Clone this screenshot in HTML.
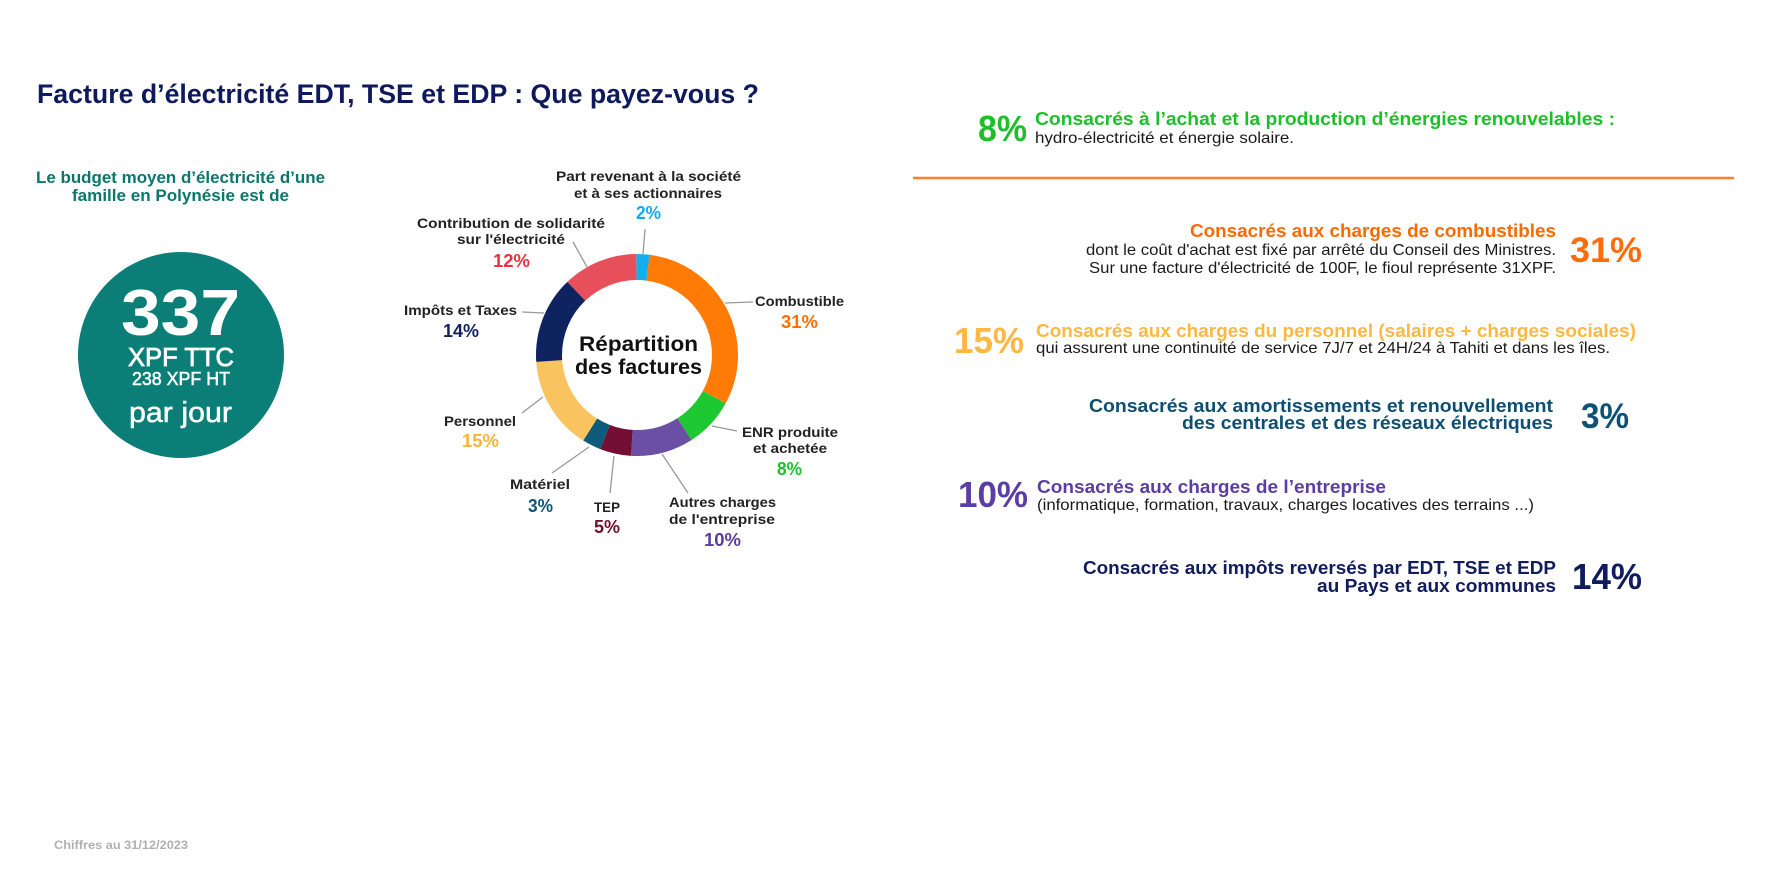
<!DOCTYPE html>
<html>
<head>
<meta charset="utf-8">
<style>
  html,body{margin:0;padding:0;background:#fff;}
  svg{display:block;}
  text{font-family:"Liberation Sans",Arial,sans-serif;}
  .b{font-weight:bold;}
  .lbl{font-size:14px;font-weight:bold;fill:#222;}
  .pct{font-size:18px;font-weight:bold;}
  .body{font-size:16px;fill:#1a1a1a;}
  .hd{font-size:18.5px;font-weight:bold;}
  .big{font-size:36px;font-weight:bold;}
</style>
</head>
<body>
<svg width="1773" height="895" viewBox="0 0 1773 895" xmlns="http://www.w3.org/2000/svg">
  <rect width="1773" height="895" fill="#fff"/>

  <!-- Title -->
  <text x="37" y="103" font-size="26.5" class="b" fill="#0e1a5c" textLength="722" lengthAdjust="spacingAndGlyphs">Facture d’électricité EDT, TSE et EDP : Que payez-vous ?</text>

  <!-- Left panel -->
  <text x="36" y="183" font-size="16.5" class="b" fill="#0b766b" textLength="289" lengthAdjust="spacingAndGlyphs">Le budget moyen d’électricité d’une</text>
  <text x="72" y="201" font-size="16.5" class="b" fill="#0b766b" textLength="217" lengthAdjust="spacingAndGlyphs">famille en Polynésie est de</text>

  <circle cx="181" cy="355" r="103" fill="#0b7f77"/>
  <text x="121" y="335" font-size="65" class="b" fill="#fff" textLength="119" lengthAdjust="spacingAndGlyphs">337</text>
  <text x="128" y="366" font-size="26" fill="#fff" stroke="#fff" stroke-width="0.8" textLength="106" lengthAdjust="spacingAndGlyphs">XPF TTC</text>
  <text x="132" y="385" font-size="18" fill="#fff" stroke="#fff" stroke-width="0.5" textLength="98" lengthAdjust="spacingAndGlyphs">238 XPF HT</text>
  <text x="129" y="422" font-size="29" fill="#fff" stroke="#fff" stroke-width="0.5" textLength="103" lengthAdjust="spacingAndGlyphs">par jour</text>

  <!-- Donut -->
  <g transform="rotate(-90 637 355)" fill="none" stroke-width="26">
    <circle cx="637" cy="355" r="88" pathLength="100" stroke="#14aef0" stroke-dasharray="2 98" stroke-dashoffset="0"/>
    <circle cx="637" cy="355" r="88" pathLength="100" stroke="#ff7b06" stroke-dasharray="31 69" stroke-dashoffset="-2"/>
    <circle cx="637" cy="355" r="88" pathLength="100" stroke="#1ec832" stroke-dasharray="8 92" stroke-dashoffset="-33"/>
    <circle cx="637" cy="355" r="88" pathLength="100" stroke="#6a4fa5" stroke-dasharray="10 90" stroke-dashoffset="-41"/>
    <circle cx="637" cy="355" r="88" pathLength="100" stroke="#720f33" stroke-dasharray="5 95" stroke-dashoffset="-51"/>
    <circle cx="637" cy="355" r="88" pathLength="100" stroke="#0e5a7a" stroke-dasharray="3 97" stroke-dashoffset="-56"/>
    <circle cx="637" cy="355" r="88" pathLength="100" stroke="#f9c45f" stroke-dasharray="15 85" stroke-dashoffset="-59"/>
    <circle cx="637" cy="355" r="88" pathLength="100" stroke="#0f2361" stroke-dasharray="14 86" stroke-dashoffset="-74"/>
    <circle cx="637" cy="355" r="88" pathLength="100" stroke="#e74f5a" stroke-dasharray="12 88" stroke-dashoffset="-88"/>
  </g>

  <text x="579" y="351" font-size="21" class="b" fill="#111" textLength="119" lengthAdjust="spacingAndGlyphs">Répartition</text>
  <text x="575" y="374" font-size="21" class="b" fill="#111" textLength="127" lengthAdjust="spacingAndGlyphs">des factures</text>

  <!-- Leader lines -->
  <g stroke="#9a9a9a" stroke-width="1.3" fill="none">
    <line x1="645" y1="229" x2="643" y2="254"/>
    <line x1="573" y1="242" x2="587" y2="267"/>
    <line x1="725" y1="303" x2="753" y2="302"/>
    <line x1="522" y1="312" x2="544" y2="313"/>
    <line x1="522" y1="413" x2="543" y2="397"/>
    <line x1="552" y1="473" x2="589" y2="447"/>
    <line x1="610" y1="493" x2="614" y2="456"/>
    <line x1="688" y1="493" x2="662" y2="454"/>
    <line x1="712" y1="426" x2="737" y2="431"/>
  </g>

  <!-- Donut labels -->
  <text x="556" y="181" class="lbl" textLength="185" lengthAdjust="spacingAndGlyphs">Part revenant à la société</text>
  <text x="574" y="198" class="lbl" textLength="148" lengthAdjust="spacingAndGlyphs">et à ses actionnaires</text>
  <text x="636" y="219" class="pct" fill="#15a9ec" textLength="25" lengthAdjust="spacingAndGlyphs">2%</text>

  <text x="417" y="228" class="lbl" textLength="188" lengthAdjust="spacingAndGlyphs">Contribution de solidarité</text>
  <text x="457" y="244" class="lbl" textLength="108" lengthAdjust="spacingAndGlyphs">sur l'électricité</text>
  <text x="493" y="267" class="pct" fill="#e8323f" textLength="37" lengthAdjust="spacingAndGlyphs">12%</text>

  <text x="755" y="306" class="lbl" textLength="89" lengthAdjust="spacingAndGlyphs">Combustible</text>
  <text x="781" y="328" class="pct" fill="#ff6f00" textLength="37" lengthAdjust="spacingAndGlyphs">31%</text>

  <text x="404" y="315" class="lbl" textLength="113" lengthAdjust="spacingAndGlyphs">Impôts et Taxes</text>
  <text x="443" y="337" class="pct" fill="#13215e" textLength="36" lengthAdjust="spacingAndGlyphs">14%</text>

  <text x="444" y="426" class="lbl" textLength="72" lengthAdjust="spacingAndGlyphs">Personnel</text>
  <text x="462" y="447" class="pct" fill="#fbb436" textLength="37" lengthAdjust="spacingAndGlyphs">15%</text>

  <text x="510" y="489" class="lbl" textLength="60" lengthAdjust="spacingAndGlyphs">Matériel</text>
  <text x="528" y="512" class="pct" fill="#0e5677" textLength="25" lengthAdjust="spacingAndGlyphs">3%</text>

  <text x="594" y="512" class="lbl" textLength="26" lengthAdjust="spacingAndGlyphs">TEP</text>
  <text x="594" y="533" class="pct" fill="#6e1030" textLength="26" lengthAdjust="spacingAndGlyphs">5%</text>

  <text x="669" y="507" class="lbl" textLength="107" lengthAdjust="spacingAndGlyphs">Autres charges</text>
  <text x="669" y="524" class="lbl" textLength="106" lengthAdjust="spacingAndGlyphs">de l'entreprise</text>
  <text x="704" y="546" class="pct" fill="#5b3da0" textLength="37" lengthAdjust="spacingAndGlyphs">10%</text>

  <text x="742" y="437" class="lbl" textLength="96" lengthAdjust="spacingAndGlyphs">ENR produite</text>
  <text x="753" y="453" class="lbl" textLength="74" lengthAdjust="spacingAndGlyphs">et achetée</text>
  <text x="777" y="475" class="pct" fill="#1cc22b" textLength="25" lengthAdjust="spacingAndGlyphs">8%</text>

  <!-- Right panel -->
  <text x="978" y="141" class="big" fill="#1fbf2a" textLength="49" lengthAdjust="spacingAndGlyphs">8%</text>
  <text x="1035" y="125" class="hd" fill="#1cc12a" textLength="580" lengthAdjust="spacingAndGlyphs">Consacrés à l’achat et la production d’énergies renouvelables :</text>
  <text x="1035" y="143" class="body" textLength="259" lengthAdjust="spacingAndGlyphs">hydro-électricité et énergie solaire.</text>

  <line x1="913" y1="178" x2="1734" y2="178" stroke="#ff7f2a" stroke-width="2.5"/>

  <text x="1190" y="237" class="hd" fill="#ff6a00" textLength="366" lengthAdjust="spacingAndGlyphs">Consacrés aux charges de combustibles</text>
  <text x="1086" y="255" class="body" textLength="470" lengthAdjust="spacingAndGlyphs">dont le coût d'achat est fixé par arrêté du Conseil des Ministres.</text>
  <text x="1089" y="273" class="body" textLength="467" lengthAdjust="spacingAndGlyphs">Sur une facture d'électricité de 100F, le fioul représente 31XPF.</text>
  <text x="1570" y="262" font-size="35" class="b" fill="#ff6d0a" textLength="72" lengthAdjust="spacingAndGlyphs">31%</text>

  <text x="954" y="353" class="big" fill="#fdb843" textLength="70" lengthAdjust="spacingAndGlyphs">15%</text>
  <text x="1036" y="337" class="hd" fill="#fdb843" textLength="600" lengthAdjust="spacingAndGlyphs">Consacrés aux charges du personnel (salaires + charges sociales)</text>
  <text x="1036" y="353" class="body" textLength="574" lengthAdjust="spacingAndGlyphs">qui assurent une continuité de service 7J/7 et 24H/24 à Tahiti et dans les îles.</text>

  <text x="1089" y="412" class="hd" fill="#0d4f72" textLength="464" lengthAdjust="spacingAndGlyphs">Consacrés aux amortissements et renouvellement</text>
  <text x="1182" y="429" class="hd" fill="#0d4f72" textLength="371" lengthAdjust="spacingAndGlyphs">des centrales et des réseaux électriques</text>
  <text x="1581" y="428" font-size="35" class="b" fill="#0d5275" textLength="48" lengthAdjust="spacingAndGlyphs">3%</text>

  <text x="958" y="507" class="big" fill="#5b3ea3" textLength="70" lengthAdjust="spacingAndGlyphs">10%</text>
  <text x="1037" y="493" class="hd" fill="#5b3ea3" textLength="349" lengthAdjust="spacingAndGlyphs">Consacrés aux charges de l’entreprise</text>
  <text x="1037" y="510" class="body" textLength="497" lengthAdjust="spacingAndGlyphs">(informatique, formation, travaux, charges locatives des terrains ...)</text>

  <text x="1083" y="574" class="hd" fill="#101c5c" textLength="473" lengthAdjust="spacingAndGlyphs">Consacrés aux impôts reversés par EDT, TSE et EDP</text>
  <text x="1317" y="592" class="hd" fill="#101c5c" textLength="239" lengthAdjust="spacingAndGlyphs">au Pays et aux communes</text>
  <text x="1572" y="589" class="big" fill="#101c5c" textLength="70" lengthAdjust="spacingAndGlyphs">14%</text>

  <!-- Footer -->
  <text x="54" y="849" font-size="12" class="b" fill="#b0b0b0" textLength="134" lengthAdjust="spacingAndGlyphs">Chiffres au 31/12/2023</text>
</svg>
</body>
</html>
